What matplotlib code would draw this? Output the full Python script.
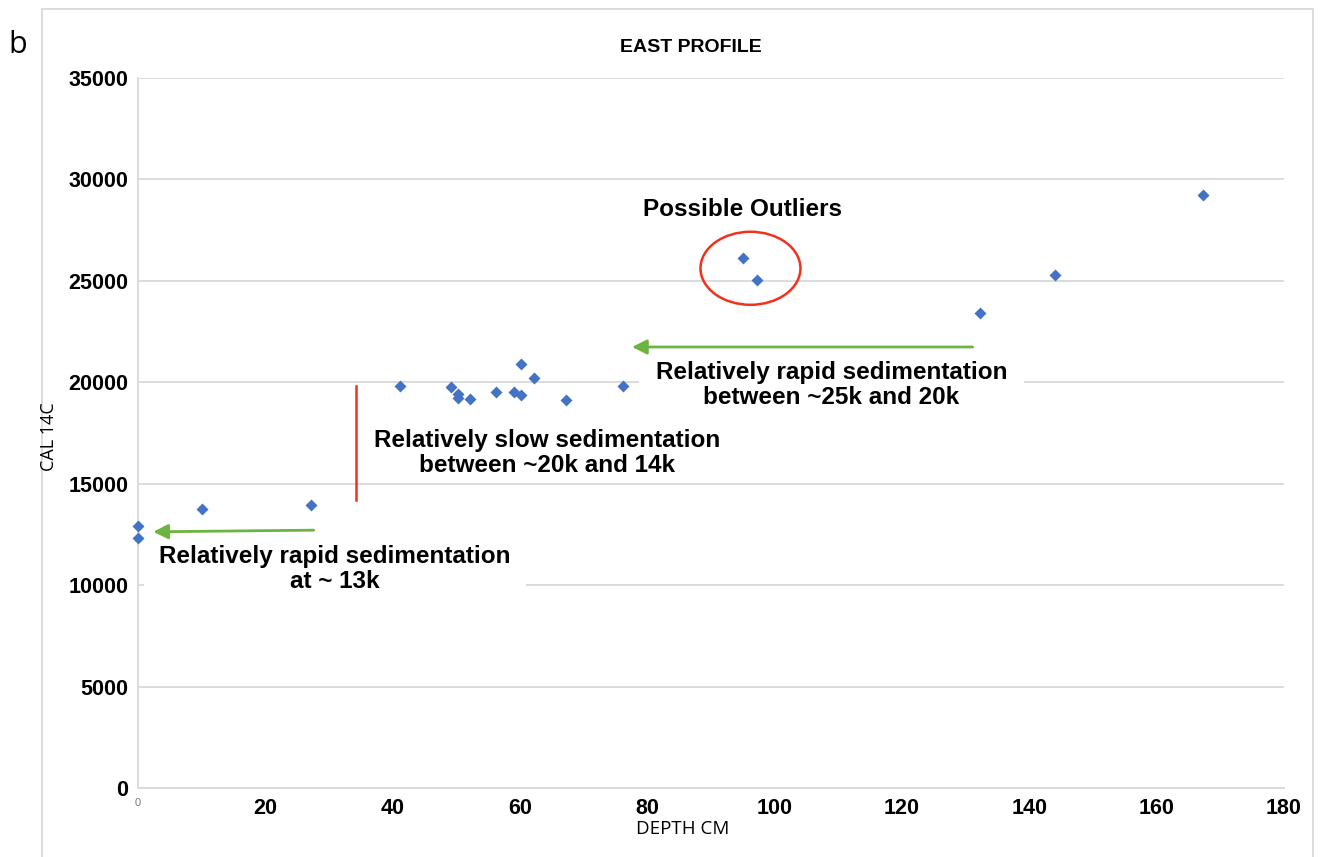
import matplotlib
matplotlib.use("Agg")
import matplotlib.pyplot as plt
from matplotlib.patches import Ellipse, Rectangle

# depth (cm) vs calibrated 14C age, east profile
depth_cm = [0, 0, 10.0, 27.1, 41.1, 49.1, 50.2, 50.2, 52.1, 56.2, 59.0, 60.1,
            60.1, 62.2, 67.2, 76.2, 95.1, 97.2, 132.2, 144.0, 167.3]
cal_14c = [12930, 12330, 13730, 13930, 19800, 19770, 19440, 19240, 19160, 19520,
           19520, 19390, 20890, 20230, 19150, 19820, 26120, 25020, 23410, 25270,
           29250]

x_ticks = [0, 20, 40, 60, 80, 100, 120, 140, 160, 180]
y_ticks = [0, 5000, 10000, 15000, 20000, 25000, 30000, 35000]

grid_col = '#d9d9d9'
green = '#6db33f'
red = '#f2311d'
blue = '#4472c4'

fig = plt.figure(figsize=(13.2, 8.57), dpi=100)
ax = fig.add_axes([138 / 1320, 1 - 788 / 857, (1284 - 138) / 1320, (788 - 78) / 857])

ax.set_xlim(0, 180)
ax.set_ylim(0, 35000)
ax.set_xticks(x_ticks)
ax.set_yticks(y_ticks)
ax.grid(axis='y', color=grid_col, lw=1.3, zorder=0)
ax.set_axisbelow(True)
for s in ['top', 'right']:
    ax.spines[s].set_visible(False)
for s in ['left', 'bottom']:
    ax.spines[s].set_color(grid_col)
    ax.spines[s].set_linewidth(1.3)
ax.tick_params(length=0)
ax.tick_params(axis='y', pad=7)
ax.tick_params(axis='x', pad=7)

bold = dict(family='Liberation Sans', weight='bold')
ax.set_yticklabels([str(v) for v in y_ticks], fontsize=15.5, **bold)
ax.set_xticklabels([str(v) for v in x_ticks], fontsize=15.5, **bold)
zero_lbl = ax.get_xticklabels()[0]
zero_lbl.set_fontsize(8)
zero_lbl.set_fontweight('normal')
zero_lbl.set_color('#777777')

ax.plot(depth_cm, cal_14c, 'D', color=blue, ms=6, mec='none', zorder=5, clip_on=False)

fig.text(683 / 1320, 1 - 829 / 857, 'DEPTH CM', ha='center', va='center',
         family='Open Sans', fontsize=13.5)
fig.text(49 / 1320, 1 - 437 / 857, 'CAL 14C', ha='center', va='center', rotation=90,
         family='Open Sans', fontsize=13)

# annotations
ax.add_patch(Ellipse((96.2, 25620), 15.7, 3600, fill=False, ec=red, lw=1.8, zorder=6))
ax.text(94.9, 28520, 'Possible Outliers', ha='center', va='center', fontsize=17.5, **bold)

ax.plot([34.2, 34.2], [19800, 14200], color=red, lw=1.8, zorder=6)

arrow = dict(arrowstyle='-|>', color=green, lw=2, mutation_scale=22, shrinkA=0, shrinkB=0)
ax.annotate('', xy=(2.4, 12630), xytext=(27.6, 12710), arrowprops=arrow, zorder=6)
ax.annotate('', xy=(77.6, 21740), xytext=(131.1, 21740), arrowprops=arrow, zorder=6)

box = dict(facecolor='white', edgecolor='none')
ax.text(30.9, 10790, 'Relatively rapid sedimentation\nat ~ 13k', ha='center', va='center',
        fontsize=17.5, linespacing=1.1, bbox=dict(box, pad=11), zorder=4, **bold)
ax.text(64.2, 16500, 'Relatively slow sedimentation\nbetween ~20k and 14k', ha='center',
        va='center', fontsize=17.5, linespacing=1.1, bbox=dict(box, pad=4), zorder=4, **bold)
ax.text(108.9, 19850, 'Relatively rapid sedimentation\nbetween ~25k and 20k', ha='center',
        va='center', fontsize=17.5, linespacing=1.1, bbox=dict(box, pad=12), zorder=4, **bold)

fig.text(691 / 1320, 1 - 47 / 857, 'EAST PROFILE', ha='center', va='center', fontsize=14, **bold)
fig.text(18 / 1320, 1 - 45 / 857, 'b', ha='center', va='center', fontsize=22, family='Open Sans')

# outer chart frame
fig.patches.append(Rectangle((42 / 1320, -0.05), (1313 - 42) / 1320, 1 - 9 / 857 + 0.05,
                             transform=fig.transFigure, fill=False, ec=grid_col, lw=1.3))

fig.savefig('out.png', dpi=100)
